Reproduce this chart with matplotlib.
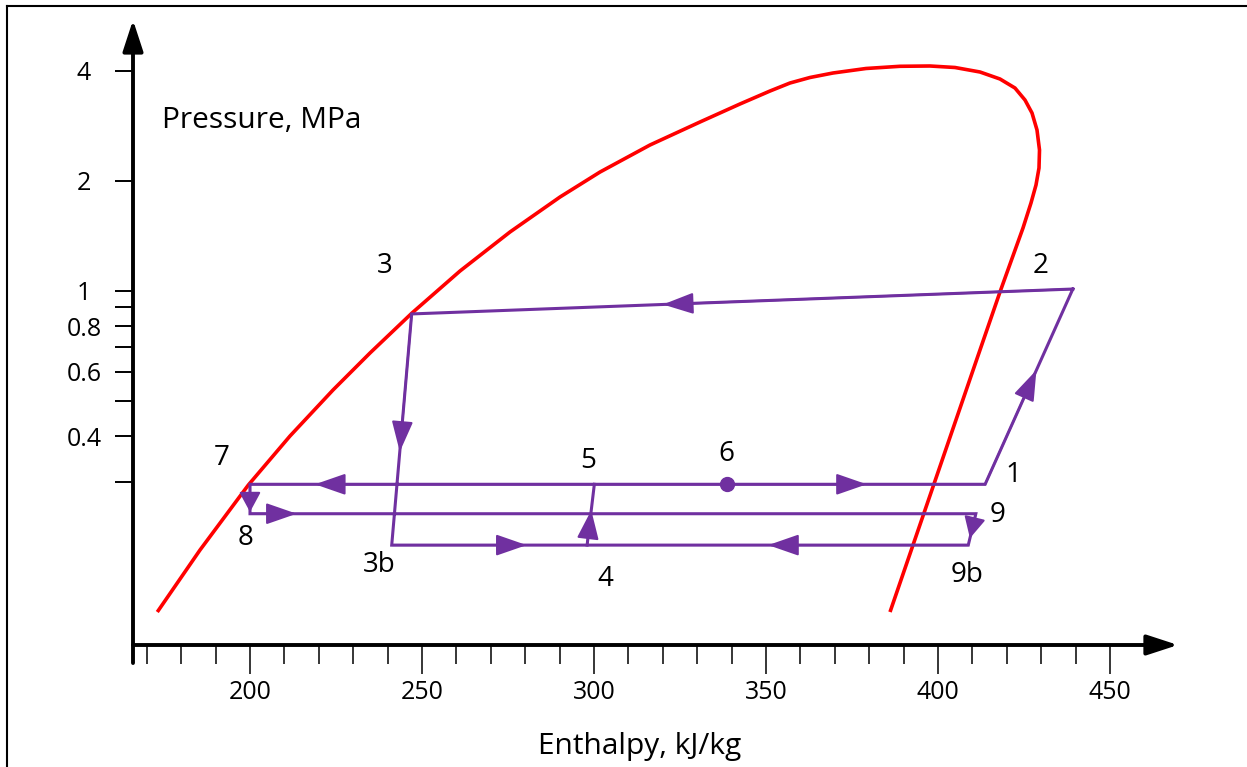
import numpy as np
import matplotlib
matplotlib.use("Agg")
import matplotlib.pyplot as plt
from matplotlib.lines import Line2D
from matplotlib.ticker import NullLocator, NullFormatter

plt.rcParams['font.family'] = ['Open Sans', 'DejaVu Sans']

"""
Values read off the chart (h in kJ/kg, P in MPa)
"""
# saturation dome, liquid side -> top -> vapour side
dome_h = [173.05, 185.47, 199.51, 211.63, 224.13, 234.88, 247.09, 261.05, 275.58,
          290.12, 301.74, 316.28, 330.81, 342.44, 351.16, 356.98, 362.79, 369.48,
          379.07, 388.95, 397.67, 404.94, 412.21, 418.02, 422.38, 425.29, 427.33,
          428.78, 429.51, 429.36, 428.49, 427.03, 424.71, 418.02, 411.4, 386.05]
dome_p = [0.1318, 0.1949, 0.2936, 0.400, 0.5347, 0.6752, 0.869, 1.1327, 1.4488,
          1.8066, 2.1146, 2.508, 2.8996, 3.2486, 3.5253, 3.7084, 3.8394, 3.9498,
          4.0636, 4.1204, 4.1282, 4.0893, 3.9748, 3.8032, 3.593, 3.331, 3.0694,
          2.7575, 2.4296, 2.1686, 1.9486, 1.7391, 1.4857, 0.9922, 0.6541, 0.1318]

# cycle: 2 -> 3 -> 3b -> 9b -> 9 -> 8 -> 7 -> 1 -> 2
cycle_h = [439.2, 247.0, 241.2, 408.8, 411.0, 200.0, 200.0, 413.7, 439.2]
cycle_p = [1.011, 0.864, 0.201, 0.201, 0.245, 0.245, 0.295, 0.295, 1.011]

# branch 4 -> 5
branch_h = [298.0, 300.1]
branch_p = [0.201, 0.295]

# state point 6
pt6_h = 338.6
pt6_p = 0.295

x_major = [200, 250, 300, 350, 400, 450]
x_minor = list(range(170, 441, 10))
y_ticks = [4, 2, 1, 0.9, 0.8, 0.7, 0.6, 0.5, 0.4, 0.3]
y_labels = ['4', '2', '1', '', '0.8', '', '0.6', '', '0.4', '']

purple = '#7030A0'
red = '#FF0000'

fig = plt.figure(figsize=(12.47, 7.67), dpi=100)
ax = fig.add_axes([133 / 1247, 122 / 767, 1017 / 1247, 595 / 767])
ax.set_yscale('log')
ax.set_xlim(165.99, 461.63)
ax.set_ylim(0.10704, 4.5665)
for s in ax.spines.values():
    s.set_visible(False)

# axis arrows
ax.annotate('', xy=(1.0275, 0), xytext=(0, 0), xycoords='axes fraction',
            arrowprops=dict(arrowstyle='-|>,head_length=1.9,head_width=0.62',
                            mutation_scale=10, color='black', lw=2.8,
                            shrinkA=0, shrinkB=0), annotation_clip=False)
ax.annotate('', xy=(0, 1.0504), xytext=(0, -0.0303), xycoords='axes fraction',
            arrowprops=dict(arrowstyle='-|>,head_length=1.9,head_width=0.62',
                            mutation_scale=10, color='black', lw=2.8,
                            shrinkA=0, shrinkB=0), annotation_clip=False)

# ticks
ax.set_xticks(x_major)
ax.set_xticks(x_minor, minor=True)
ax.xaxis.set_minor_formatter(NullFormatter())
ax.set_yticks(y_ticks)
ax.set_yticklabels(y_labels)
ax.yaxis.set_minor_locator(NullLocator())
ax.tick_params(axis='x', which='major', direction='out', length=20.9, width=1.1,
               pad=4, labelsize=18)
ax.tick_params(axis='x', which='minor', direction='out', length=13.7, width=1.1)
ax.tick_params(axis='y', which='major', direction='out', length=13, width=1.4,
               pad=22.3, labelsize=18)
for lab in ax.get_yticklabels():
    lab.set_ha('center')

# saturation dome
ax.plot(dome_h, dome_p, color=red, lw=2.6, solid_capstyle='butt',
        solid_joinstyle='round', clip_on=False)

# cycle lines
ax.plot(cycle_h, cycle_p, color=purple, lw=2.2, solid_joinstyle='miter')
ax.plot(branch_h, branch_p, color=purple, lw=2.2)
ax.plot(pt6_h, pt6_p, 'o', color=purple, markersize=10)


def on_seg(h0, p0, h1, p1, t):
    # point at fraction t along the segment (linear in h, log in P)
    h = h0 + t * (h1 - h0)
    p = 10 ** (np.log10(p0) + t * (np.log10(p1) - np.log10(p0)))
    return h, p


def flow_arrow(i0, i1, t, hl=1.9, hw=0.66, hs=cycle_h, ps=cycle_p):
    tip = on_seg(hs[i0], ps[i0], hs[i1], ps[i1], t)
    ax.annotate('', xy=tip, xytext=(hs[i0], ps[i0]),
                arrowprops=dict(arrowstyle=f'-|>,head_length={hl},head_width={hw}',
                                mutation_scale=10, color=purple, lw=1.5,
                                shrinkA=0, shrinkB=0))


flow_arrow(0, 1, 0.62)               # 2 -> 3
flow_arrow(1, 2, 0.596)              # 3 -> 3b
flow_arrow(7, 6, 0.9116)             # 5 -> 7
flow_arrow(6, 7, 0.839)              # 6 -> 1
flow_arrow(6, 5, 0.94, hl=1.22)      # 7 -> 8
flow_arrow(5, 4, 0.0643)             # 8 -> 9
flow_arrow(4, 3, 0.78, hl=1.3)       # 9 -> 9b
flow_arrow(3, 2, 0.347)              # 9b -> 4
flow_arrow(2, 3, 0.234)              # 3b -> 4
flow_arrow(0, 1, 0.574, hl=1.8, hw=0.68, hs=branch_h, ps=branch_p)  # 4 -> 5
flow_arrow(7, 8, 0.585)              # 1 -> 2

# state labels
labels = [('2', 429.94, 1.118), ('3', 239.24, 1.118), ('7', 191.77, 0.333),
          ('8', 198.75, 0.2011), ('3b', 237.65, 0.1699), ('5', 298.17, 0.3262),
          ('6', 338.58, 0.3416), ('4', 303.2, 0.1556), ('1', 421.89, 0.2998),
          ('9', 417.24, 0.233), ('9b', 408.52, 0.1596)]
for txt, h, p in labels:
    ax.text(h, p, txt, fontsize=20, ha='center', va='baseline', color='black')

ax.text(174.42, 2.786, 'Pressure, MPa', fontsize=21.5, ha='left', va='baseline')

ax.set_xlabel('Enthalpy, kJ/kg', fontsize=21.5)
ax.xaxis.set_label_coords(0.4985, -0.1832)
ax.xaxis.label.set_va('baseline')

# outer frame
fig.add_artist(Line2D([7 / 1247, 7 / 1247], [0, 1 - 6 / 767],
                      transform=fig.transFigure, color='black', lw=1.5))
fig.add_artist(Line2D([7 / 1247, 1], [1 - 6 / 767, 1 - 6 / 767],
                      transform=fig.transFigure, color='black', lw=1.5))

fig.savefig('out.png', dpi=100)
